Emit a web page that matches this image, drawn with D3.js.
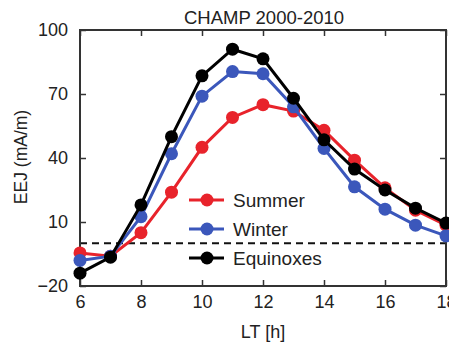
<!DOCTYPE html>
<html>
<head>
<meta charset="utf-8">
<script src="https://cdn.jsdelivr.net/npm/d3@7"></script>
<style>
  html, body { margin: 0; padding: 0; background: #fff; overflow: hidden; }
  text { font-family: "Liberation Sans", Arial, Helvetica, sans-serif; fill: #222; }
</style>
</head>
<body>
<script>
// local time hours
const hours = [6, 7, 8, 9, 10, 11, 12, 13, 14, 15, 16, 17, 18]
// EEJ (mA/m)
const summer = [-4.5, -6, 5, 24, 45, 59, 65, 62, 53, 39, 26, 15.5, 8.5]
const winter = [-8, -6, 12.5, 42, 69, 80.5, 79.5, 64, 44.5, 26.5, 16, 8.5, 3.5]
const equinoxes = [-14, -6.5, 18, 50, 78.5, 91, 86.5, 68, 48.5, 34.8, 25, 16.5, 9.5]

const seriesNames = ['Summer', 'Winter', 'Equinoxes']
const seriesColors = ['#e8232b', '#3b57bb', '#000000']
const xTicks = [6, 8, 10, 12, 14, 16, 18]
const yTicks = [-20, 10, 40, 70, 100]
const yTickLabels = ['\u221220', '10', '40', '70', '100']

const width = 449, height = 344
const margin = { top: 30, right: 3, bottom: 58, left: 80 }

const svg = d3.select('body').append('svg')
  .attr('width', width)
  .attr('height', height)

const x = d3.scaleLinear().domain([6, 18]).range([margin.left, width - margin.right])
const y = d3.scaleLinear().domain([-20, 100]).range([height - margin.bottom, margin.top])

// zero reference line
svg.append('line')
  .attr('x1', x(6)).attr('x2', x(18))
  .attr('y1', y(0)).attr('y2', y(0))
  .attr('stroke', '#111')
  .attr('stroke-width', 2)
  .attr('stroke-dasharray', '7,5')

// axes with inward ticks
const xAxis = d3.axisBottom(x).tickValues(xTicks).tickSize(-6).tickPadding(9)
const yAxis = d3.axisLeft(y).tickValues(yTicks).tickSize(-6).tickPadding(12)
  .tickFormat((d, i) => yTickLabels[i])

const gx = svg.append('g')
  .attr('transform', `translate(0,${y(-20)})`)
  .call(xAxis)
const gy = svg.append('g')
  .attr('transform', `translate(${x(6)},0)`)
  .call(yAxis)
const gxTop = svg.append('g')
  .attr('transform', `translate(0,${y(100)})`)
  .call(d3.axisTop(x).tickValues(xTicks).tickSize(-6).tickFormat(''))
const gyRight = svg.append('g')
  .attr('transform', `translate(${x(18)},0)`)
  .call(d3.axisRight(y).tickValues(yTicks).tickSize(-6).tickFormat(''))

;[gx, gy, gxTop, gyRight].forEach(g => {
  g.select('.domain').remove()
  g.selectAll('.tick line').attr('stroke', '#333').attr('stroke-width', 1.5)
  g.selectAll('.tick text').attr('font-size', 18).attr('fill', '#222')
    .style('font-family', '"Liberation Sans", Arial, sans-serif')
})

// frame
svg.append('rect')
  .attr('x', x(6)).attr('y', y(100))
  .attr('width', x(18) - x(6)).attr('height', y(-20) - y(100))
  .attr('fill', 'none')
  .attr('stroke', '#333')
  .attr('stroke-width', 2)

// series
const allSeries = [summer, winter, equinoxes]
const line = d3.line().x((d, i) => x(hours[i])).y(d => y(d))

allSeries.forEach((vals, k) => {
  const g = svg.append('g')
  g.append('path')
    .datum(vals)
    .attr('d', line)
    .attr('fill', 'none')
    .attr('stroke', seriesColors[k])
    .attr('stroke-width', 3)
  g.selectAll('circle')
    .data(vals)
    .enter().append('circle')
    .attr('cx', (d, i) => x(hours[i]))
    .attr('cy', d => y(d))
    .attr('r', 6.5)
    .attr('fill', seriesColors[k])
})

// legend
const legend = svg.append('g').attr('transform', 'translate(189,200)')
seriesNames.forEach((name, k) => {
  const row = legend.append('g').attr('transform', `translate(0,${k * 29})`)
  row.append('line')
    .attr('x1', 0).attr('x2', 35)
    .attr('stroke', seriesColors[k]).attr('stroke-width', 3)
  row.append('circle')
    .attr('cx', 18).attr('r', 6.5)
    .attr('fill', seriesColors[k])
  row.append('text')
    .attr('x', 44).attr('y', 7)
    .attr('font-size', 19)
    .text(name)
})

// title and axis labels
svg.append('text')
  .attr('x', 264).attr('y', 24)
  .attr('text-anchor', 'middle')
  .attr('font-size', 18.5)
  .text('CHAMP 2000-2010')

svg.append('text')
  .attr('x', 263).attr('y', 338)
  .attr('text-anchor', 'middle')
  .attr('font-size', 18)
  .text('LT [h]')

svg.append('text')
  .attr('transform', 'translate(27,157) rotate(-90)')
  .attr('text-anchor', 'middle')
  .attr('font-size', 17.5)
  .text('EEJ (mA/m)')
</script>
</body>
</html>
